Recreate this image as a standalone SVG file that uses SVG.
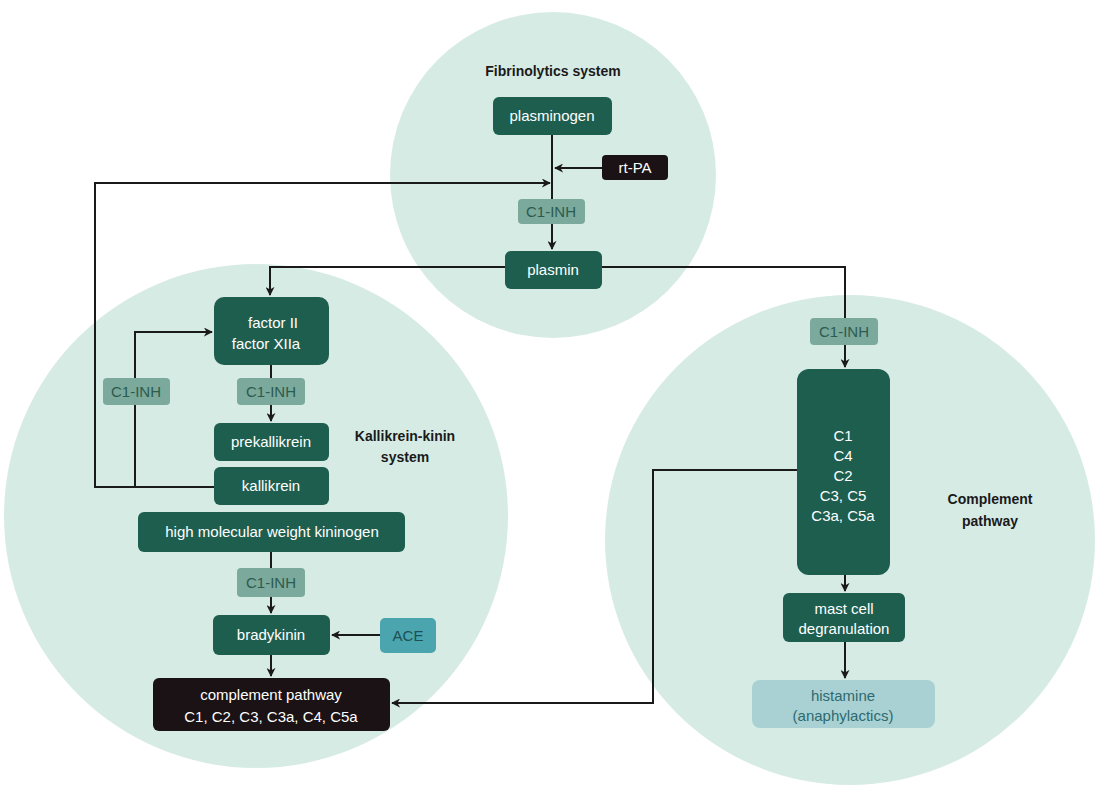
<svg xmlns="http://www.w3.org/2000/svg" width="1112" height="800" viewBox="0 0 1112 800">
<defs>
<marker id="ah" viewBox="0 0 10 10" refX="9" refY="5" markerWidth="9" markerHeight="9" markerUnits="userSpaceOnUse" orient="auto"><path d="M0,0 L10,5 L0,10 L3,5 z" fill="#1a1a1a"/></marker>
<style>
.c{fill:#d7ebe5}
.d{fill:#1e5e4f}
.i{fill:#7ba99b}
.k{fill:#1a1214}
text{font-family:"Liberation Sans",Arial,sans-serif;font-size:15px;text-anchor:middle}
.w{fill:#ffffff}
.it{fill:#2c5b50}
.h{font-weight:bold;fill:#1a1a1a;font-size:14px}
.l{fill:none;stroke:#1a1a1a;stroke-width:2}
</style>
</defs>
<rect width="1112" height="800" fill="#ffffff"/>
<circle class="c" cx="553" cy="175" r="163"/>
<circle class="c" cx="256" cy="516" r="252"/>
<circle class="c" cx="850" cy="540" r="245"/>
<text class="h" x="553" y="76">Fibrinolytics system</text>
<text class="h" x="405" y="441">Kallikrein-kinin</text>
<text class="h" x="405" y="462">system</text>
<text class="h" x="990" y="504">Complement</text>
<text class="h" x="990" y="526">pathway</text>
<g id="connectors">
<path class="l" d="M552,135 V249" marker-end="url(#ah)"/>
<path class="l" d="M602,168 H555" marker-end="url(#ah)"/>
<path class="l" d="M214,487 H95 V183 H550" marker-end="url(#ah)"/>
<path class="l" d="M135,487 V332 H212" marker-end="url(#ah)"/>
<path class="l" d="M505,267 H270 V295" marker-end="url(#ah)"/>
<path class="l" d="M602,267 H845 V367" marker-end="url(#ah)"/>
<path class="l" d="M797,470 H653 V703 H392" marker-end="url(#ah)"/>
<path class="l" d="M271,365 V421" marker-end="url(#ah)"/>
<path class="l" d="M271,552 V613" marker-end="url(#ah)"/>
<path class="l" d="M380,635 H332" marker-end="url(#ah)"/>
<path class="l" d="M271,655 V676" marker-end="url(#ah)"/>
<path class="l" d="M845,575 V591" marker-end="url(#ah)"/>
<path class="l" d="M845,642 V678" marker-end="url(#ah)"/>
</g>
<g id="plasminogen"><rect class="d" x="493" y="97" width="119" height="38" rx="6"/><text class="w" x="552" y="121">plasminogen</text></g>
<g id="rtpa"><rect class="k" x="602" y="155" width="66" height="25" rx="4"/><text class="w" x="635" y="173">rt-PA</text></g>
<g id="c1inh-top"><rect class="i" x="518" y="199" width="67" height="25" rx="4"/><text class="it" x="551" y="217">C1-INH</text></g>
<g id="plasmin"><rect class="d" x="505" y="251" width="97" height="38" rx="6"/><text class="w" x="553" y="275">plasmin</text></g>
<g id="factor"><rect class="d" x="214" y="297" width="115" height="68" rx="10"/><text class="w" x="273" y="328">factor II</text><text class="w" x="266" y="349">factor  XIIa</text></g>
<g id="c1inh-left"><rect class="i" x="103" y="378" width="67" height="27" rx="4"/><text class="it" x="136" y="397">C1-INH</text></g>
<g id="c1inh-mid"><rect class="i" x="237" y="378" width="68" height="27" rx="4"/><text class="it" x="271" y="397">C1-INH</text></g>
<g id="prekallikrein"><rect class="d" x="214" y="423" width="115" height="38" rx="6"/><text class="w" x="271" y="447">prekallikrein</text></g>
<g id="kallikrein"><rect class="d" x="214" y="467" width="115" height="38" rx="6"/><text class="w" x="271" y="491">kallikrein</text></g>
<g id="hmwk"><rect class="d" x="138" y="512" width="267" height="40" rx="6"/><text class="w" x="272" y="537">high molecular weight kininogen</text></g>
<g id="c1inh-low"><rect class="i" x="237" y="568" width="68" height="29" rx="4"/><text class="it" x="271" y="588">C1-INH</text></g>
<g id="bradykinin"><rect class="d" x="213" y="615" width="117" height="40" rx="6"/><text class="w" x="271" y="640">bradykinin</text></g>
<g id="ace"><rect x="380" y="618" width="56" height="35" rx="5" fill="#4aa5ae"/><text x="408" y="641" fill="#1d4f55">ACE</text></g>
<g id="complement-kk"><rect class="k" x="153" y="678" width="237" height="53" rx="6"/><text class="w" x="271" y="700">complement pathway</text><text class="w" x="271" y="722">C1, C2, C3, C3a, C4, C5a</text></g>
<g id="c1inh-right"><rect class="i" x="810" y="318" width="68" height="27" rx="4"/><text class="it" x="844" y="337">C1-INH</text></g>
<g id="cbox"><rect class="d" x="797" y="369" width="93" height="206" rx="12"/><text class="w" x="843" y="441">C1</text><text class="w" x="843" y="461">C4</text><text class="w" x="843" y="481">C2</text><text class="w" x="843" y="501">C3, C5</text><text class="w" x="843" y="521">C3a, C5a</text></g>
<g id="mastcell"><rect class="d" x="783" y="593" width="122" height="49" rx="6"/><text class="w" x="844" y="614">mast cell</text><text class="w" x="844" y="634">degranulation</text></g>
<g id="histamine"><rect x="752" y="680" width="183" height="48" rx="8" fill="#a9d1d3"/><text x="843" y="701" fill="#2d6a70">histamine</text><text x="843" y="721" fill="#2d6a70">(anaphylactics)</text></g>
</svg>
